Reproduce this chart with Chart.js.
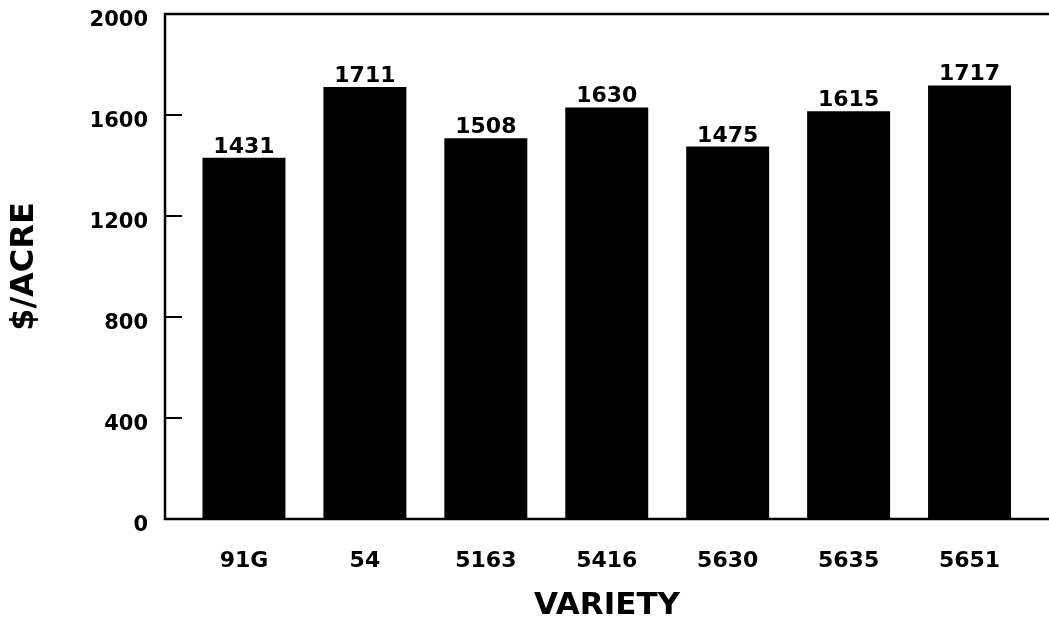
<!DOCTYPE html>
<html>
<head>
<meta charset="utf-8">
<script src="https://cdn.jsdelivr.net/npm/chart.js@4/dist/chart.umd.min.js"></script>
<style>
  html, body { margin: 0; padding: 0; background: #ffffff; }
  #wrap { width: 1049px; height: 625px; position: relative; }
</style>
</head>
<body>
<div id="wrap"><canvas id="c" width="1049" height="625"></canvas></div>
<script>
const categories = ['91G', '54', '5163', '5416', '5630', '5635', '5651'];
const values = [1431, 1711, 1508, 1630, 1475, 1615, 1717];
const yTicks = [0, 400, 800, 1200, 1600, 2000];
const xTitle = 'VARIETY';
const yTitle = '$/ACRE';

const FONT = '"DejaVu Sans", "Liberation Sans", Arial, sans-serif';

const framePlugin = {
  id: 'frame',
  afterDatasetsDraw(chart) {
    const { ctx, chartArea: a, scales } = chart;
    ctx.save();
    ctx.strokeStyle = '#000';
    ctx.lineWidth = 2.5;
    ctx.beginPath();
    ctx.moveTo(a.right + 2, a.top);
    ctx.lineTo(a.left, a.top);
    ctx.lineTo(a.left, a.bottom);
    ctx.lineTo(a.right + 2, a.bottom);
    ctx.stroke();
    // inward tick marks
    ctx.lineWidth = 2;
    yTicks.forEach(v => {
      const y = scales.y.getPixelForValue(v);
      ctx.beginPath();
      ctx.moveTo(a.left, y);
      ctx.lineTo(a.left + 17, y);
      ctx.stroke();
    });
    // value labels
    const meta = chart.getDatasetMeta(0);
    ctx.fillStyle = '#000';
    ctx.font = 'bold 22px ' + FONT;
    ctx.textAlign = 'center';
    ctx.textBaseline = 'alphabetic';
    meta.data.forEach((bar, i) => {
      ctx.fillText(String(values[i]), bar.x, bar.y - 5);
    });
    ctx.restore();
  }
};

function zeroPad(scale) {
  scale.paddingTop = 0; scale.paddingBottom = 0;
  scale.paddingLeft = 0; scale.paddingRight = 0;
}

new Chart(document.getElementById('c'), {
  type: 'bar',
  data: {
    datasets: [{
      data: values.map((v, i) => ({ x: i, y: v })),
      backgroundColor: '#000000',
      borderWidth: 0,
      barPercentage: 0.686,
      categoryPercentage: 1.0
    }]
  },
  options: {
    responsive: false,
    animation: false,
    devicePixelRatio: 1,
    layout: { padding: { top: 14, right: 0, bottom: 0, left: 0 } },
    plugins: { legend: { display: false }, tooltip: { enabled: false } },
    scales: {
      x: {
        type: 'linear',
        offset: false,
        min: -0.653,
        max: 6.657,
        afterBuildTicks: (scale) => { scale.ticks = categories.map((c, i) => ({ value: i })); },
        afterFit: (scale) => { scale.height = 106; zeroPad(scale); },
        grid: { display: false, drawTicks: false, offset: false },
        border: { display: false },
        ticks: {
          callback: (v) => categories[v],
          padding: 29,
          color: '#000',
          font: { family: FONT, size: 22, weight: 'bold' },
          maxRotation: 0,
          autoSkip: false
        },
        title: {
          display: true,
          text: xTitle,
          color: '#000',
          font: { family: FONT, size: 31, weight: 'bold' },
          padding: { top: 0, bottom: 0 }
        }
      },
      y: {
        min: 0,
        max: 2000,
        afterBuildTicks: (scale) => { scale.ticks = yTicks.map(v => ({ value: v })); },
        afterFit: (scale) => { scale.width = 165; zeroPad(scale); },
        grid: { display: false, drawTicks: false },
        border: { display: false },
        ticks: {
          callback: (v) => String(v),
          padding: 17,
          labelOffset: 7,
          color: '#000',
          font: { family: FONT, size: 21, weight: 'bold' }
        },
        title: {
          display: true,
          text: yTitle,
          color: '#000',
          font: { family: FONT, size: 32, weight: 'bold' },
          padding: { top: 5, bottom: 0 }
        }
      }
    }
  },
  plugins: [framePlugin]
});
</script>
</body>
</html>
